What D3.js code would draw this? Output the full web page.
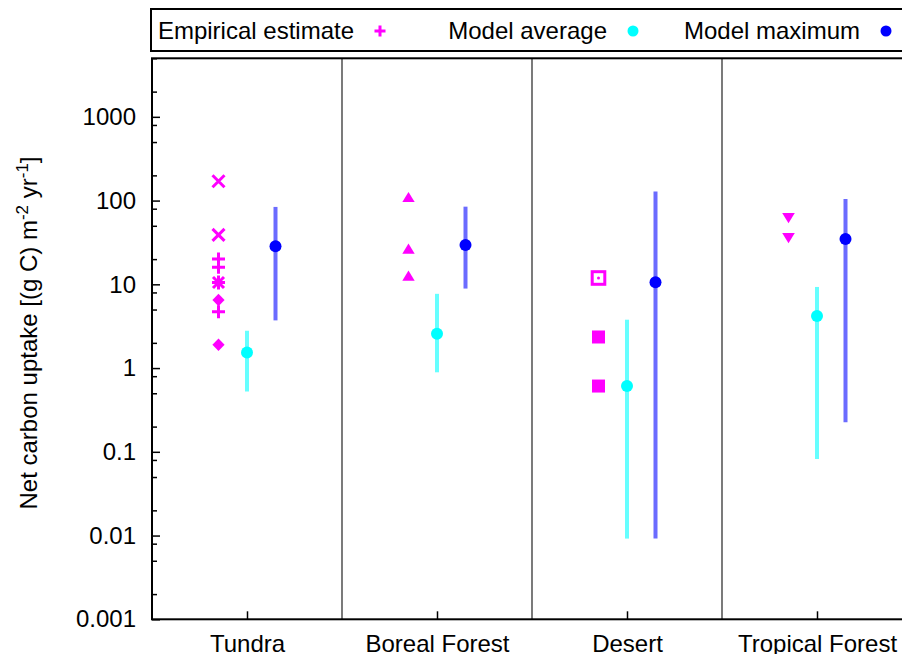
<!DOCTYPE html>
<html>
<head>
<meta charset="utf-8">
<script src="https://cdn.jsdelivr.net/npm/d3@7"></script>
<style>
  html, body { margin: 0; padding: 0; background: #fff; overflow: hidden; }
  svg { display: block; font-family: "Liberation Sans", Arial, Helvetica, sans-serif; }
</style>
</head>
<body>
<svg id="chart" width="902" height="654"></svg>
<script>
// Biomes on the x axis
const categories = ["Tundra", "Boreal Forest", "Desert", "Tropical Forest"];

// Individual empirical estimates per biome (g C m-2 yr-1)
const empiricalValues = [
  [170, 39, 20, 16, 10.5, 6.5, 4.7, 1.9],
  [110, 26.6, 12.7],
  [11.9, 2.35, 0.61],
  [62, 35.7]
];
// Point symbol used for each empirical estimate
const empiricalSymbols = [
  ["cross", "cross", "plus", "plus", "star", "diamond", "plus", "diamond"],
  ["triangle", "triangle", "triangle"],
  ["squareOpen", "square", "square"],
  ["triangleDown", "triangleDown"]
];

// Model average with its range
const modelAverage = [1.53, 2.57, 0.61, 4.18];
const modelAverageLow = [0.525, 0.89, 0.0092, 0.082];
const modelAverageHigh = [2.79, 7.7, 3.78, 9.3];

// Model maximum with its range
const modelMaximum = [28.4, 29.5, 10.6, 34.8];
const modelMaximumLow = [3.71, 8.9, 0.0092, 0.226];
const modelMaximumHigh = [84, 84.6, 128, 104.5];

// Axis ticks
const yTicks = [0.001, 0.01, 0.1, 1, 10, 100, 1000];
const yTickLabels = ["0.001", "0.01", "0.1", "1", "10", "100", "1000"];
const legendLabels = ["Empirical estimate", "Model average", "Model maximum"];

const MAGENTA = "#ff00ff";
const CYAN = "#00ffff";
const CYAN_BAR = "#66ffff";
const BLUE = "#0000ff";
const BLUE_BAR = "#6b6bff";
const FONT = 24;

const svg = d3.select("#chart");
const plotLeft = 152, plotRight = 912, plotTop = 58.3, plotBottom = 619.3;

const x = d3.scaleLinear().domain([0, categories.length]).range([plotLeft, plotRight]);
const y = d3.scaleLog().domain([0.001, 5000]).range([plotBottom, plotTop]);
const cx = i => x(i + 0.5);

// minor ticks at 2, 5, 8 of each decade
const minorTicks = [];
for (let e = -3; e <= 3; e++) {
  [2, 5, 8].forEach(m => {
    const v = m * Math.pow(10, e);
    if (v <= 5000) minorTicks.push(+v.toPrecision(3));
  });
}

// Y axis: major ticks with labels
const yAxis = svg.append("g").attr("transform", `translate(${plotLeft},0)`)
  .call(d3.axisLeft(y).tickValues(yTicks)
    .tickFormat((d, i) => yTickLabels[i])
    .tickSizeInner(-8).tickSizeOuter(0).tickPadding(16));
yAxis.select(".domain").remove();
yAxis.selectAll("line").attr("stroke", "#000").attr("stroke-width", 1.5);
yAxis.selectAll("text").attr("font-size", FONT).attr("fill", "#000")
  .attr("font-family", '"Liberation Sans", Arial, sans-serif');

// Y axis: minor ticks
const yMinor = svg.append("g").attr("transform", `translate(${plotLeft},0)`)
  .call(d3.axisLeft(y).tickValues(minorTicks).tickFormat("")
    .tickSizeInner(-5).tickSizeOuter(0));
yMinor.select(".domain").remove();
yMinor.selectAll("line").attr("stroke", "#000").attr("stroke-width", 1.5);

// X axis: category ticks and labels
const xAxis = svg.append("g").attr("transform", `translate(0,${plotBottom})`)
  .call(d3.axisBottom(x).tickValues(categories.map((c, i) => i + 0.5))
    .tickFormat((d, i) => categories[i])
    .tickSizeInner(-8).tickSizeOuter(0));
xAxis.select(".domain").remove();
xAxis.selectAll("line").attr("stroke", "#000").attr("stroke-width", 1.5);
xAxis.selectAll("text").attr("font-size", FONT).attr("fill", "#000")
  .attr("y", 33).attr("dy", 0)
  .attr("font-family", '"Liberation Sans", Arial, sans-serif');

// Separators between biomes
svg.append("g").selectAll("line")
  .data(d3.range(1, categories.length))
  .join("line")
  .attr("x1", d => x(d)).attr("x2", d => x(d))
  .attr("y1", plotTop).attr("y2", plotBottom)
  .attr("stroke", "#222").attr("stroke-width", 1.2);

// Plot frame
svg.append("rect")
  .attr("x", plotLeft).attr("y", plotTop)
  .attr("width", plotRight - plotLeft).attr("height", plotBottom - plotTop)
  .attr("fill", "none").attr("stroke", "#000").attr("stroke-width", 2);

// Symbol painters, centred on (0,0)
function drawSymbol(g, type, color) {
  const lw = 3;
  switch (type) {
    case "plus":
      g.append("path").attr("d", "M-6.5,0H6.5M0,-6.5V6.5")
        .attr("stroke", color).attr("stroke-width", lw).attr("fill", "none");
      break;
    case "cross":
      g.append("path").attr("d", "M-6,-6L6,6M-6,6L6,-6")
        .attr("stroke", color).attr("stroke-width", lw).attr("fill", "none");
      break;
    case "star":
      g.append("path").attr("d", "M-6.5,0H6.5M0,-7V7M-5.5,-5.5L5.5,5.5M-5.5,5.5L5.5,-5.5")
        .attr("stroke", color).attr("stroke-width", lw).attr("fill", "none");
      break;
    case "diamond":
      g.append("path").attr("d", "M0,-6.3L6.1,0L0,6.3L-6.1,0Z").attr("fill", color);
      break;
    case "triangle":
      g.append("path").attr("d", "M0,-5.2L6.2,5L-6.2,5Z").attr("fill", color);
      break;
    case "triangleDown":
      g.append("path").attr("d", "M0,5.2L6.3,-5L-6.3,-5Z").attr("fill", color);
      break;
    case "square":
      g.append("rect").attr("x", -6.5).attr("y", -6.5)
        .attr("width", 13).attr("height", 13).attr("fill", color);
      break;
    case "squareOpen":
      g.append("rect").attr("x", -6.3).attr("y", -6.3)
        .attr("width", 12.6).attr("height", 12.6)
        .attr("fill", "none").attr("stroke", color).attr("stroke-width", lw);
      g.append("circle").attr("r", 1.5).attr("fill", color);
      break;
  }
}

const marks = svg.append("g");
const offEmp = -28.5, offMax = 28.5;

// Empirical estimates
categories.forEach((c, i) => {
  empiricalValues[i].forEach((v, j) => {
    const g = marks.append("g").attr("transform", `translate(${cx(i) + offEmp},${y(v)})`);
    drawSymbol(g, empiricalSymbols[i][j], MAGENTA);
  });
});

// Model average: range bar and point
marks.append("g").selectAll("line")
  .data(categories.map((c, i) => i))
  .join("line")
  .attr("x1", i => cx(i)).attr("x2", i => cx(i))
  .attr("y1", i => y(modelAverageLow[i])).attr("y2", i => y(modelAverageHigh[i]))
  .attr("stroke", CYAN_BAR).attr("stroke-width", 4);
marks.append("g").selectAll("circle")
  .data(modelAverage)
  .join("circle")
  .attr("cx", (d, i) => cx(i)).attr("cy", d => y(d)).attr("r", 6)
  .attr("fill", CYAN);

// Model maximum: range bar and point
marks.append("g").selectAll("line")
  .data(categories.map((c, i) => i))
  .join("line")
  .attr("x1", i => cx(i) + offMax).attr("x2", i => cx(i) + offMax)
  .attr("y1", i => y(modelMaximumLow[i])).attr("y2", i => y(modelMaximumHigh[i]))
  .attr("stroke", BLUE_BAR).attr("stroke-width", 4);
marks.append("g").selectAll("circle")
  .data(modelMaximum)
  .join("circle")
  .attr("cx", (d, i) => cx(i) + offMax).attr("cy", d => y(d)).attr("r", 6)
  .attr("fill", BLUE);

// Y axis title with superscripts
const yTitle = svg.append("text")
  .attr("transform", `translate(37,333) rotate(-90)`)
  .attr("text-anchor", "middle")
  .attr("font-size", FONT).attr("fill", "#000");
yTitle.append("tspan").text("Net carbon uptake [(g C) m");
yTitle.append("tspan").attr("dy", -9).attr("font-size", 17).text("-2");
yTitle.append("tspan").attr("dy", 9).text(" yr");
yTitle.append("tspan").attr("dy", -9).attr("font-size", 17).text("-1");
yTitle.append("tspan").attr("dy", 9).text("]");

// Legend box across the top
svg.append("rect")
  .attr("x", 151).attr("y", 9).attr("width", 800).attr("height", 42)
  .attr("fill", "#fff").attr("stroke", "#000").attr("stroke-width", 2);

const legendColors = [MAGENTA, CYAN, BLUE];
const legendSpacing = 253, legendFirst = 380;
legendLabels.forEach((lab, i) => {
  const mx = legendFirst + i * legendSpacing;
  svg.append("text")
    .attr("x", mx - 26).attr("y", 38.5)
    .attr("text-anchor", "end")
    .attr("font-size", FONT).attr("fill", "#000")
    .text(lab);
  const g = svg.append("g").attr("transform", `translate(${mx},31)`);
  if (i === 0) {
    g.append("path").attr("d", "M-5.5,0H5.5M0,-5.5V5.5")
      .attr("stroke", legendColors[i]).attr("stroke-width", 3);
  } else {
    g.append("circle").attr("r", 5.5).attr("fill", legendColors[i]);
  }
});
</script>
</body>
</html>
